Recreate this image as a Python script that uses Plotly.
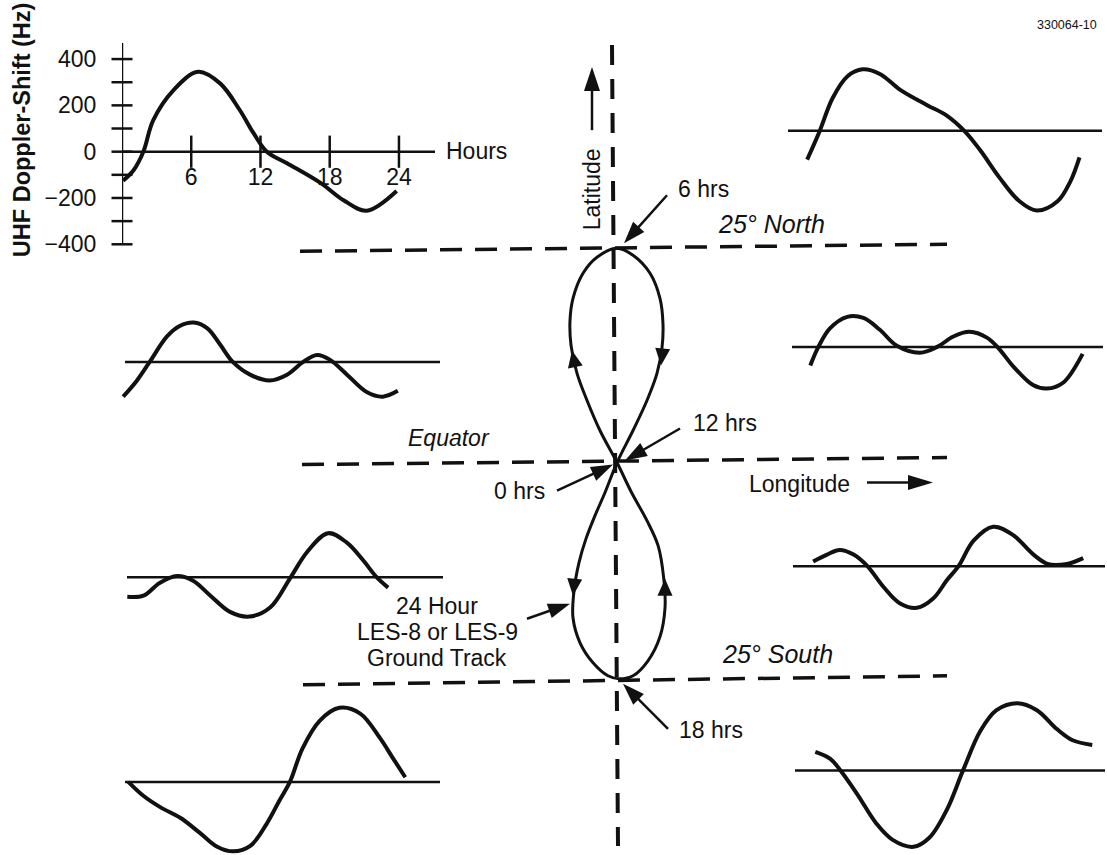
import math
import plotly.graph_objects as go

W, H = 1107, 855          # drawing space, in page pixels
FIG_H = 869               # layout height that lands on H rows in the final capture
FONT = "Liberation Sans, Arial, Helvetica, sans-serif"
INK = "#111111"

# ---------------- data ----------------
# UHF Doppler shift over one day, reference station (inset with axes)
inset_hours = [0.1, 1.0, 1.85, 2.7, 4.45, 6.6, 8.5, 10.2, 11.4, 12.55, 14.3, 17.2, 19.2, 21.2, 23.8]
inset_hz = [-125, -80, 0, 135, 265, 345, 295, 180, 80, 0, -50, -135, -210, -255, -170]
inset_ytick_vals = [-400, -200, 0, 200, 400]
inset_ytick_text = ["\u2212400", "\u2212200", "0", "200", "400"]
inset_xtick_vals = [6, 12, 18, 24]
inset_xtick_text = ["6", "12", "18", "24"]

# Doppler curves for stations around the ground track (hours, Hz)
upper_east_hours = [0.1, 1.2, 2.3, 3.6, 4.9, 6.4, 8.2, 10.5, 12.2, 13.8, 15.1, 16.8, 18.5, 20.0, 21.8, 22.9, 23.7]
upper_east_hz = [-125, 0, 140, 235, 265, 245, 175, 110, 65, -5, -85, -205, -305, -345, -305, -220, -115]

north_west_hours = [0.1, 1.3, 2.4, 3.9, 5.0, 6.2, 7.4, 8.5, 9.6, 11.1, 12.8, 14.3, 15.7, 16.9, 18.0, 19.5, 21.2, 22.6, 23.9]
north_west_hz = [-150, -80, 0, 110, 155, 170, 145, 75, 0, -55, -80, -55, 0, 30, 10, -55, -130, -150, -125]

north_east_hours = [0.2, 0.9, 1.9, 3.4, 4.8, 6.2, 7.7, 9.7, 11.2, 12.6, 14.0, 15.5, 16.5, 17.8, 19.5, 20.7, 22.1, 23.8]
north_east_hz = [-80, 0, 80, 130, 125, 75, 5, -25, 0, 45, 65, 40, -5, -85, -165, -180, -155, -30]

south_west_hours = [0.2, 1.6, 3.0, 4.5, 5.9, 7.4, 9.1, 10.8, 12.6, 14.3, 15.8, 17.6, 19.2, 20.6, 21.8, 22.8]
south_west_hz = [-85, -80, -25, 5, -15, -80, -150, -170, -130, -5, 110, 190, 150, 75, 0, -45]

south_east_hours = [0.1, 1.3, 2.4, 3.6, 4.8, 6.2, 7.6, 9.1, 10.5, 11.7, 12.7, 14.0, 15.7, 17.4, 19.2, 20.4, 22.1, 23.5]
south_east_hz = [20, 50, 70, 50, 0, -90, -160, -180, -140, -60, 0, 110, 170, 135, 50, 10, 10, 35]

lower_west_hours = [0.2, 1.5, 3.0, 4.7, 6.4, 7.9, 9.3, 10.8, 12.2, 13.3, 14.2, 15.3, 16.8, 18.5, 20.3, 22.0, 23.1, 24.2]
lower_west_hz = [0, -60, -110, -155, -220, -280, -300, -275, -180, -80, 0, 145, 265, 320, 295, 190, 105, 20]

lower_east_hours = [0.2, 1.5, 2.3, 3.8, 5.5, 6.9, 8.7, 10.1, 11.6, 13.0, 14.5, 15.9, 17.7, 19.4, 21.1, 22.5, 24.2]
lower_east_hz = [80, 50, 5, -100, -230, -300, -330, -290, -170, 0, 170, 260, 290, 260, 180, 130, 110]

# 24-hour ground track (longitude offset, latitude), in degrees
track_lon = [0.0, -1.99, -3.50, -4.67, -5.37, -5.49, -5.14, -3.97, -2.34, 0.0,
             1.87, 3.86, 5.02, 5.37, 5.26, 4.67, 3.50, 1.87, 0.0,
             -1.40, -2.57, -3.62, -4.44, -5.02, -5.14, -4.32, -2.80, -1.05, 0.23,
             1.87, 3.62, 5.02, 5.61, 5.45, 4.80, 3.50, 1.70, 0.0]
track_lat = [0.0, 3.74, 7.24, 10.40, 13.67, 16.59, 19.16, 22.08, 23.95, 25.0,
             24.18, 22.08, 19.16, 16.24, 13.43, 10.40, 7.24, 3.74, 0.0,
             -3.50, -6.19, -8.88, -11.68, -14.95, -18.11, -21.03, -23.36, -24.88, -25.23,
             -24.88, -23.13, -20.33, -16.94, -13.43, -9.70, -6.78, -3.50, 0.0]

# ---------------- layout geometry ----------------
PX_PER_HR = 11.54
PX_PER_HZ = 0.23125
PX_PER_DEG = 8.56
TRACK_ORIGIN = (617, 462)          # crossing point of the track on the page

# inset frame
INSET_LEFT, INSET_RIGHT = 122, 435
INSET_ZERO_Y, INSET_TOP, INSET_BOTTOM = 151.5, 43, 244

# small Doppler panels: curve, origin of hour 0 / zero Hz, baseline span
panels = [
    (upper_east_hours, upper_east_hz, (806, 130.5), (788, 1102)),
    (north_west_hours, north_west_hz, (122, 361.5), (125, 440)),
    (north_east_hours, north_east_hz, (808, 346.5), (792, 1103)),
    (south_west_hours, south_west_hz, (125, 576.5), (127, 443)),
    (south_east_hours, south_east_hz, (812, 565.5), (793, 1105)),
    (lower_west_hours, lower_west_hz, (126, 781), (125, 440)),
    (lower_east_hours, lower_east_hz, (813, 769.5), (795, 1105)),
]


def P(x, y):
    return x / W, 1 - y / H


def seg(p0, p1, width=2.5, dash="solid"):
    x0, y0 = P(*p0)
    x1, y1 = P(*p1)
    return dict(type="line", xref="paper", yref="paper", x0=x0, y0=y0, x1=x1, y1=y1,
                line=dict(color=INK, width=width, dash=dash), layer="above")


def head(tail, tip, length, width):
    dx, dy = tip[0] - tail[0], tip[1] - tail[1]
    n = math.hypot(dx, dy)
    ux, uy = dx / n, dy / n
    bx, by = tip[0] - ux * length, tip[1] - uy * length
    nx, ny = -uy, ux
    pts = [tip, (bx + nx * width / 2, by + ny * width / 2), (bx - nx * width / 2, by - ny * width / 2)]
    path = "M " + " L ".join(f"{x / W:.5f},{1 - y / H:.5f}" for x, y in pts) + " Z"
    return dict(type="path", xref="paper", yref="paper", path=path,
                fillcolor=INK, line=dict(width=0), layer="above")


def arrow(tail, tip, length=22, width=15, lw=2.5):
    dx, dy = tip[0] - tail[0], tip[1] - tail[1]
    n = math.hypot(dx, dy)
    back = (tip[0] - dx / n * length * 0.7, tip[1] - dy / n * length * 0.7)
    return [seg(tail, back, width=lw), head(tail, tip, length, width)]


def label(text, x, y, size=23, xanchor="left", angle=0, italic=False, bold=False):
    px, py = P(x, y)
    return dict(text=text, x=px, y=py, xref="paper", yref="paper", showarrow=False,
                xanchor=xanchor, yanchor="middle", textangle=angle,
                font=dict(family=FONT, size=size, color=INK,
                          style="italic" if italic else "normal",
                          weight="bold" if bold else "normal"))


fig = go.Figure()
shapes = []
annotations = []

# ---- ground track on the main (degree) axes ----
fig.add_trace(go.Scatter(x=track_lon, y=track_lat, mode="lines",
                         line=dict(color=INK, width=3, shape="spline", smoothing=1.0),
                         hoverinfo="skip", showlegend=False, xaxis="x", yaxis="y"))

ox, oy = TRACK_ORIGIN
layout_axes = dict(
    xaxis=dict(domain=[0, 1], range=[-ox / PX_PER_DEG, (W - ox) / PX_PER_DEG], visible=False, fixedrange=True),
    yaxis=dict(domain=[0, 1], range=[-(H - oy) / PX_PER_DEG, oy / PX_PER_DEG], visible=False, fixedrange=True),
)

# ---- inset Doppler chart with axes ----
x2_max = (INSET_RIGHT - INSET_LEFT) / PX_PER_HR
y2_min = -(INSET_BOTTOM - INSET_ZERO_Y) / PX_PER_HZ
y2_max = (INSET_ZERO_Y - INSET_TOP) / PX_PER_HZ
fig.add_trace(go.Scatter(x=inset_hours, y=inset_hz, mode="lines", cliponaxis=False,
                         line=dict(color=INK, width=4, shape="spline", smoothing=1.0),
                         hoverinfo="skip", showlegend=False, xaxis="x2", yaxis="y2"))
# crossing tick marks
fig.add_trace(go.Scatter(x=[0] * 9, y=list(range(-400, 401, 100)), mode="markers", cliponaxis=False,
                         marker=dict(symbol="line-ew", size=15, line=dict(color=INK, width=2.5)),
                         hoverinfo="skip", showlegend=False, xaxis="x2", yaxis="y2"))
fig.add_trace(go.Scatter(x=inset_xtick_vals, y=[0] * len(inset_xtick_vals), mode="markers", cliponaxis=False,
                         marker=dict(symbol="line-ns", size=23, line=dict(color=INK, width=2.5)),
                         hoverinfo="skip", showlegend=False, xaxis="x2", yaxis="y2"))
shapes.append(dict(type="line", xref="x2", yref="y2", x0=0, y0=y2_min, x1=0, y1=y2_max,
                   line=dict(color=INK, width=2.5), layer="above"))
shapes.append(dict(type="line", xref="x2", yref="y2", x0=0, y0=0, x1=x2_max, y1=0,
                   line=dict(color=INK, width=2.5), layer="above"))

layout_axes["xaxis2"] = dict(domain=[INSET_LEFT / W, INSET_RIGHT / W], range=[0, x2_max],
                             anchor="free", position=1 - INSET_ZERO_Y / H,
                             tickvals=inset_xtick_vals, ticktext=inset_xtick_text,
                             ticks="outside", ticklen=5, tickcolor="rgba(0,0,0,0)",
                             showline=False, showgrid=False, zeroline=False, fixedrange=True,
                             tickfont=dict(family=FONT, size=23, color=INK))
layout_axes["yaxis2"] = dict(domain=[1 - INSET_BOTTOM / H, 1 - INSET_TOP / H], range=[y2_min, y2_max],
                             anchor="x2", tickvals=inset_ytick_vals, ticktext=inset_ytick_text,
                             ticks="outside", ticklen=20, tickcolor="rgba(0,0,0,0)",
                             showline=False, showgrid=False, zeroline=False, fixedrange=True,
                             tickfont=dict(family=FONT, size=23, color=INK))

# ---- station Doppler panels ----
for i, (hrs, hz, (x0, y0), (bl, br)) in enumerate(panels, start=3):
    xa, ya = f"x{i}", f"y{i}"
    fig.add_trace(go.Scatter(x=hrs, y=hz, mode="lines",
                             line=dict(color=INK, width=4, shape="spline", smoothing=1.0),
                             hoverinfo="skip", showlegend=False, xaxis=xa, yaxis=ya))
    layout_axes[f"xaxis{i}"] = dict(domain=[0, 1], range=[-x0 / PX_PER_HR, (W - x0) / PX_PER_HR],
                                    anchor=ya, visible=False, fixedrange=True)
    layout_axes[f"yaxis{i}"] = dict(domain=[0, 1], range=[-(H - y0) / PX_PER_HZ, y0 / PX_PER_HZ],
                                    anchor=xa, visible=False, fixedrange=True)
    shapes.append(dict(type="line", xref=xa, yref=ya,
                       x0=(bl - x0) / PX_PER_HR, y0=0, x1=(br - x0) / PX_PER_HR, y1=0,
                       line=dict(color=INK, width=2.5), layer="above"))

# ---- latitude / longitude guide lines ----
DASH_H = "22px,13px"
shapes.append(seg((300, 251), (947, 244), width=3.5, dash=DASH_H))   # 25 deg North
shapes.append(seg((302, 464), (947, 457), width=3.5, dash=DASH_H))   # Equator
shapes.append(seg((303, 684), (947, 675), width=3.5, dash=DASH_H))   # 25 deg South
shapes.append(seg((612, 45), (618, 845), width=4, dash="20px,14px"))  # reference meridian

# ---- direction arrows on the track ----
shapes.append(head((576, 370), (572, 350), 17, 15))
shapes.append(head((663, 345), (661, 365), 17, 15))
shapes.append(head((575, 575), (573, 595), 17, 15))
shapes.append(head((665, 598), (665, 578), 17, 15))

# ---- callout arrows ----
shapes += arrow((592, 130), (592, 67), length=24, width=16)    # Latitude
shapes += arrow((867, 482), (933, 482), length=25, width=15)   # Longitude
shapes += arrow((667, 195), (624, 243))                         # 6 hrs
shapes += arrow((680, 428), (625, 460))                         # 12 hrs
shapes += arrow((557, 490), (613, 464))                         # 0 hrs
shapes += arrow((527, 618), (570, 603))                         # ground track
shapes += arrow((668, 728), (623, 683))                         # 18 hrs

# ---- text ----
annotations += [
    label("UHF Doppler-Shift (Hz)", 22, 130, size=23.5, xanchor="center", angle=-90, bold=True),
    label("Hours", 444, 151, size=23),
    label("330064-10", 1067, 25, size=12.5, xanchor="center"),
    label("Latitude", 592, 189, size=23, xanchor="center", angle=-90),
    label("6 hrs", 676, 189, size=23),
    label("25\u00b0 North", 716, 224, size=25, italic=True),
    label("Equator", 406, 437, size=23, italic=True),
    label("12 hrs", 691, 423, size=23),
    label("0 hrs", 492, 490, size=23),
    label("Longitude", 747, 483, size=23),
    label("24 Hour", 437, 605, size=23, xanchor="center"),
    label("LES-8 or LES-9", 437, 631, size=23, xanchor="center"),
    label("Ground Track", 437, 657, size=23, xanchor="center"),
    label("25\u00b0 South", 720, 653, size=25, italic=True),
    label("18 hrs", 677, 729, size=23),
]

fig.update_layout(
    width=W, height=FIG_H, autosize=False,
    margin=dict(l=0, r=0, t=0, b=0, pad=0),
    paper_bgcolor="white",
    plot_bgcolor="rgba(0,0,0,0)",
    showlegend=False,
    shapes=shapes,
    annotations=annotations,
    hovermode=False,
    **layout_axes,
)

fig.write_html("out.html", config={"displayModeBar": False, "staticPlot": True})
